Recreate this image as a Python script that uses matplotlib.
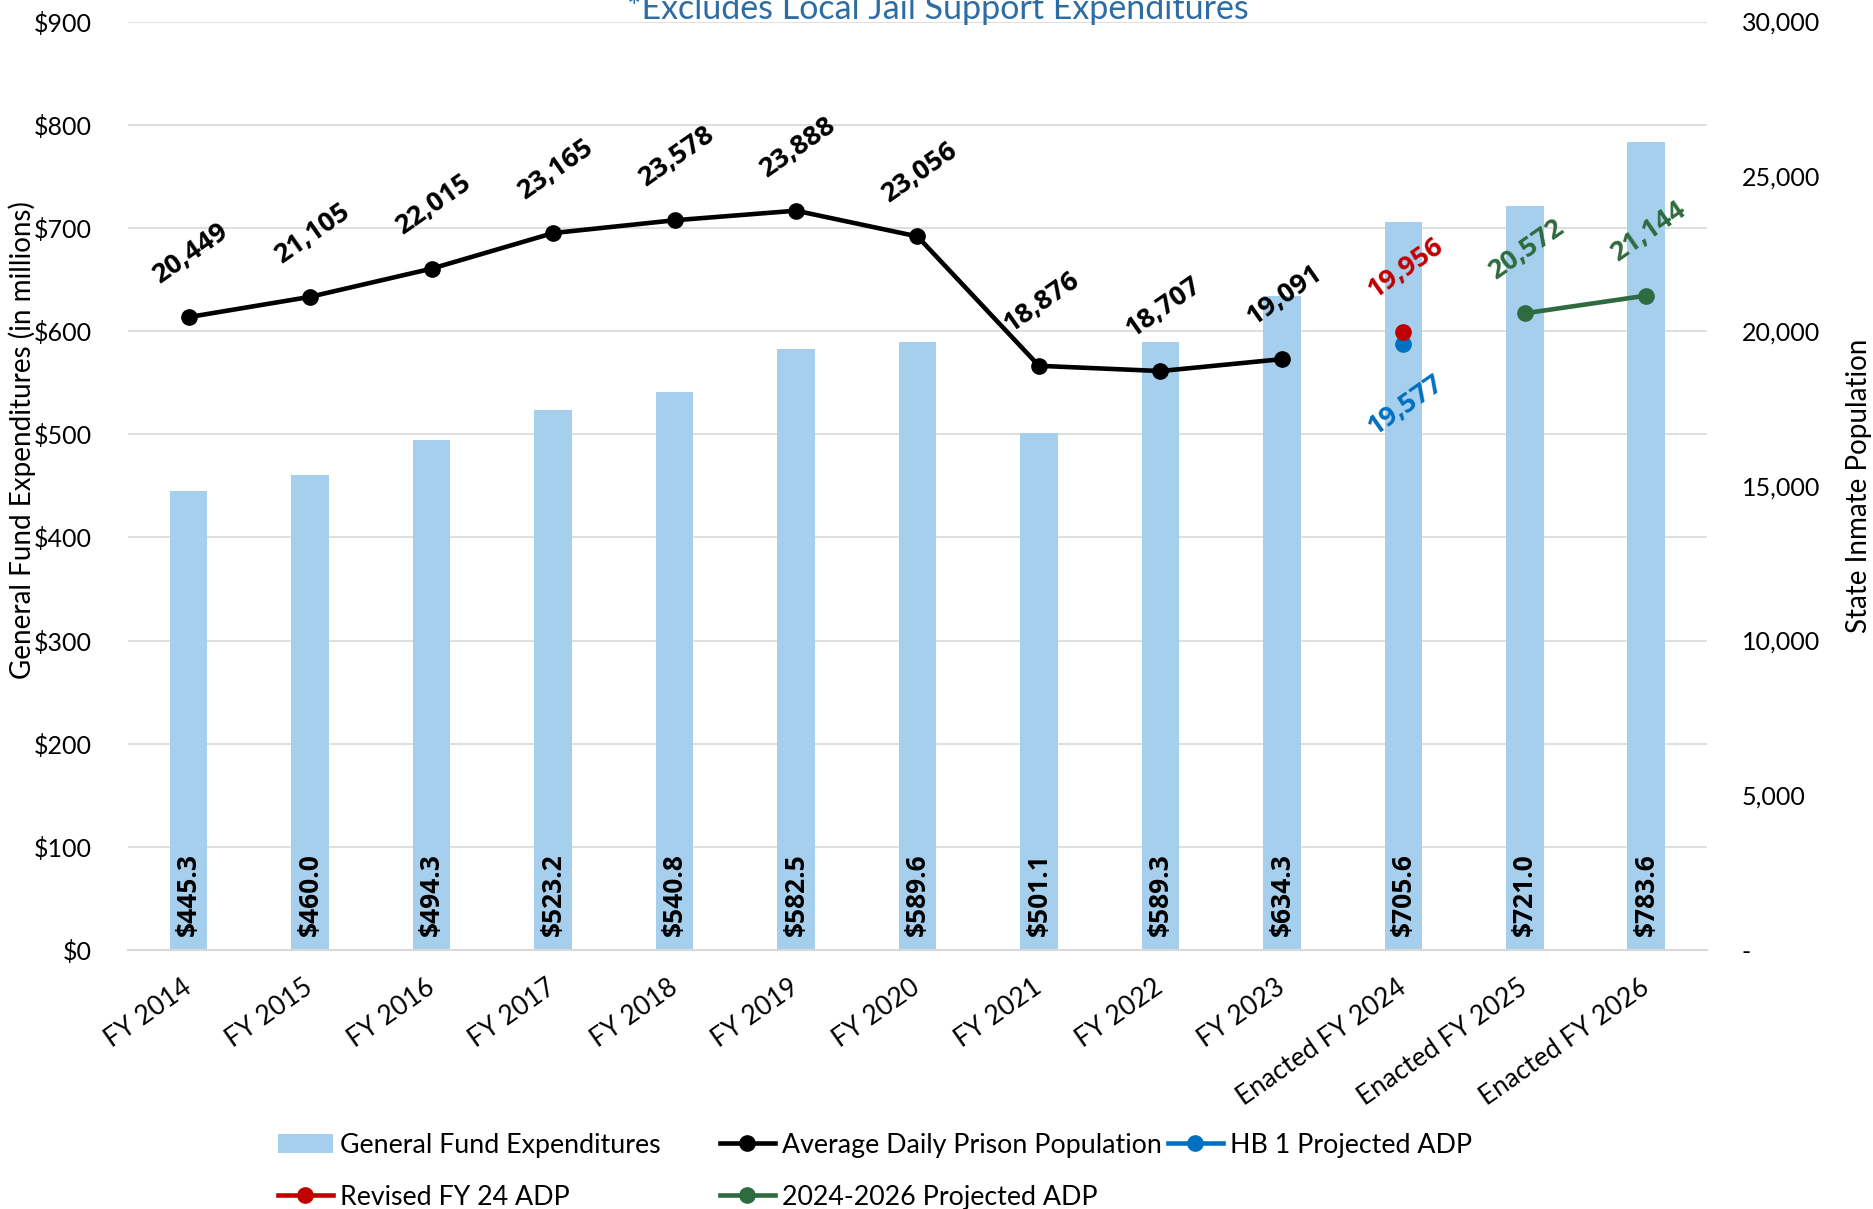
import numpy as np
import matplotlib.pyplot as plt
from matplotlib.ticker import FuncFormatter, MultipleLocator
from matplotlib.transforms import ScaledTranslation

# --- Data ---
categories = ['FY 2014', 'FY 2015', 'FY 2016', 'FY 2017', 'FY 2018', 'FY 2019',
              'FY 2020', 'FY 2021', 'FY 2022', 'FY 2023', 'Enacted FY 2024',
              'Enacted FY 2025', 'Enacted FY 2026']
expenditures = [445.3, 460.0, 494.3, 523.2, 540.8, 582.5, 589.6, 501.1,
                589.3, 634.3, 705.6, 721.0, 783.6]

adp_years = ['FY 2014', 'FY 2015', 'FY 2016', 'FY 2017', 'FY 2018', 'FY 2019',
             'FY 2020', 'FY 2021', 'FY 2022', 'FY 2023']
adp = [20449, 21105, 22015, 23165, 23578, 23888, 23056, 18876, 18707, 19091]

hb1_years = ['Enacted FY 2024']
hb1_adp = [19577]

revised_years = ['Enacted FY 2024']
revised_adp = [19956]

proj_years = ['Enacted FY 2025', 'Enacted FY 2026']
proj_adp = [20572, 21144]

BAR_C = '#A6CFEE'
BLACK = '#000000'
BLUE = '#0070C0'
RED = '#C00000'
GREEN = '#2E6B3E'
GRID = '#D9D9D9'
BOLD_FONT = ['Open Sans', 'DejaVu Sans']

plt.rcParams['font.family'] = ['Lato', 'DejaVu Sans']


def pos(names):
    return [categories.index(n) for n in names]


def main():
    fig = plt.figure(figsize=(18.73, 12.09), dpi=100)
    ax = fig.add_axes([0.0683, 0.2142, 0.9114 - 0.0683, 0.9822 - 0.2142])
    x = np.arange(len(categories))

    # bars
    bars = ax.bar(x, expenditures, width=0.31, color=BAR_C,
                  label='General Fund Expenditures', zorder=2)
    for xi, v in zip(x, expenditures):
        ax.annotate(f'${v:,.1f}', (xi, 0), xytext=(0, 10), textcoords='offset points',
                    rotation=90, ha='center', va='bottom', fontsize=19,
                    fontweight='bold', family=BOLD_FONT, color='black', zorder=3)

    ax.set_xlim(-0.5, len(categories) - 0.5)
    ax.set_ylim(0, 900)
    ax.yaxis.set_major_locator(MultipleLocator(100))
    ax.yaxis.set_major_formatter(FuncFormatter(lambda v, p: f'${v:,.0f}'))
    ax.grid(axis='y', color=GRID, linewidth=1.2, zorder=0)
    ax.set_axisbelow(True)
    for s in ['top', 'left', 'right']:
        ax.spines[s].set_visible(False)
    ax.spines['bottom'].set_color(GRID)
    ax.spines['bottom'].set_linewidth(1.5)
    ax.set_xticks(x)
    ax.set_xticklabels(categories, rotation=35, ha='right', va='center',
                       rotation_mode='anchor', fontsize=19)
    shift = ScaledTranslation(8 / 100, 0, fig.dpi_scale_trans)
    for lab in ax.get_xticklabels():
        lab.set_transform(lab.get_transform() + shift)
    ax.tick_params(axis='x', length=0, pad=25)
    ax.tick_params(axis='y', length=0, pad=26, labelsize=18)
    ax.set_ylabel('General Fund Expenditures (in millions)', fontsize=20)
    ax.yaxis.set_label_coords(-0.058, 0.549)

    # lines on secondary axis
    ax2 = ax.twinx()
    ax2.set_ylim(0, 30000)
    ax2.yaxis.set_major_locator(MultipleLocator(5000))
    ax2.yaxis.set_major_formatter(FuncFormatter(lambda v, p: '-' if v == 0 else f'{v:,.0f}'))
    for s in ['top', 'left', 'right', 'bottom']:
        ax2.spines[s].set_visible(False)
    ax2.tick_params(axis='y', length=0, pad=25, labelsize=18)
    ax2.set_ylabel('State Inmate Population', fontsize=20)
    ax2.yaxis.set_label_coords(1.088, 0.5)

    l_adp, = ax2.plot(pos(adp_years), adp, '-o', color=BLACK, lw=3.3, ms=11,
                      label='Average Daily Prison Population')
    l_hb1, = ax2.plot(pos(hb1_years), hb1_adp, '-o', color=BLUE, lw=3.3, ms=11,
                      label='HB 1 Projected ADP')
    l_rev, = ax2.plot(pos(revised_years), revised_adp, '-o', color=RED, lw=3.3, ms=11,
                      label='Revised FY 24 ADP')
    l_proj, = ax2.plot(pos(proj_years), proj_adp, '-o', color=GREEN, lw=3.3, ms=11,
                       label='2024-2026 Projected ADP')

    def label_points(names, vals, color, dy):
        for xi, v in zip(pos(names), vals):
            ax2.annotate(f'{v:,}', (xi, v), xytext=(2, dy), textcoords='offset points',
                         rotation=35, ha='center', va='center', fontsize=19.5,
                         fontweight='bold', family=BOLD_FONT, color=color)

    label_points(adp_years, adp, BLACK, 46)
    label_points(hb1_years, hb1_adp, BLUE, -44)
    label_points(revised_years, revised_adp, RED, 46)
    label_points(proj_years, proj_adp, GREEN, 46)

    # title (clipped at top like the source)
    fig.text(0.501, 0.9843, '*Excludes Local Jail Support Expenditures',
             ha='center', va='baseline', fontsize=24.5, color='#2E6DA4')

    # legend in three columns placed like the source
    common = dict(loc='upper left', frameon=False, fontsize=19.3, handlelength=2.05,
                  handletextpad=0.25, labelspacing=1.0, borderpad=0, borderaxespad=0)
    fig.legend([bars, l_rev], ['General Fund Expenditures', 'Revised FY 24 ADP'],
               bbox_to_anchor=(278 / 1873, 0.063), **common)
    fig.legend([l_adp, l_proj], ['Average Daily Prison Population', '2024-2026 Projected ADP'],
               bbox_to_anchor=(720 / 1873, 0.063), **common)
    fig.legend([l_hb1], ['HB 1 Projected ADP'],
               bbox_to_anchor=(1168 / 1873, 0.063), **common)

    fig.savefig('out.png', dpi=100)


if __name__ == '__main__':
    main()
